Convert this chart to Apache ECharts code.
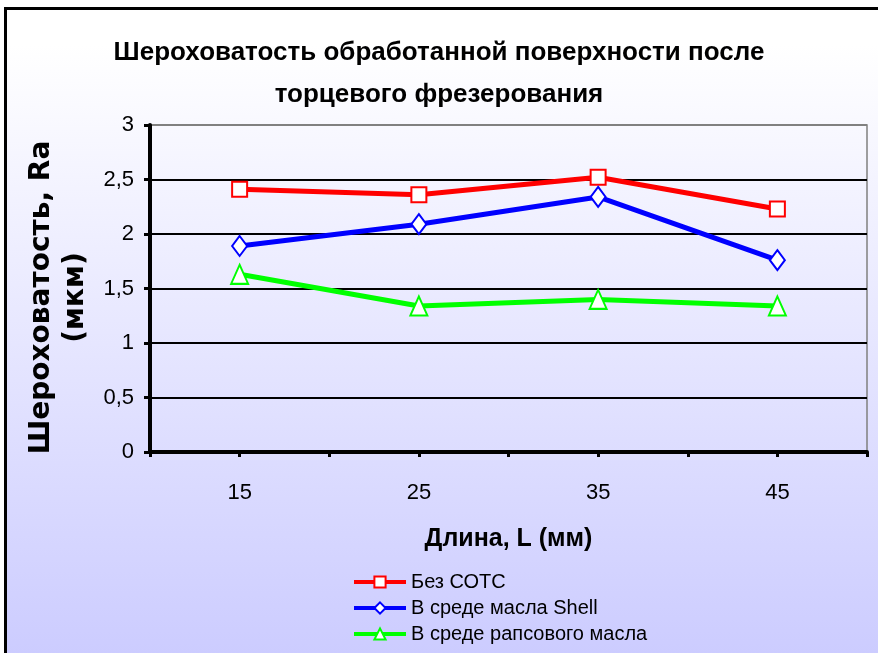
<!DOCTYPE html>
<html>
<head>
<meta charset="utf-8">
<script src="https://cdn.jsdelivr.net/npm/echarts@6/dist/echarts.min.js"></script>
<style>
  html, body { margin: 0; padding: 0; background: #ffffff; }
  #frame {
    position: absolute; left: 4px; top: 7px; width: 900px; height: 700px;
    border-left: 3px solid #000; border-top: 3px solid #000;
    background: linear-gradient(to bottom, #ffffff 0%, #ffffff 5%, #ccccff 92%, #ccccff 100%);
  }
  #chart { position: absolute; left: 0; top: 0; width: 878px; height: 653px; }
</style>
</head>
<body>
<div id="frame"></div>
<div id="chart"></div>
<script>
// Length of the milled part, mm
const lengths = [15, 25, 35, 45];
// Roughness Ra, µm
const dryValues = [2.41, 2.36, 2.52, 2.23];
const shellValues = [1.89, 2.09, 2.34, 1.76];
const rapeseedValues = [1.63, 1.34, 1.40, 1.34];
const seriesNames = ['Без СОТС', 'В среде масла Shell', 'В среде рапсового масла'];
const yTicks = [0, 0.5, 1, 1.5, 2, 2.5, 3];

const pairs = vals => lengths.map((x, i) => [x, vals[i]]);
const font = "'Liberation Sans', Arial, sans-serif";

const chart = echarts.init(document.getElementById('chart'), null, { renderer: 'canvas' });

function lineSeries(name, vals, color, symbol, size) {
  return {
    name, type: 'line', data: pairs(vals),
    symbol, symbolSize: size,
    lineStyle: { color, width: 5 },
    itemStyle: { color: '#ffffff', borderColor: color, borderWidth: 2 },
    z: 5
  };
}

chart.setOption({
  backgroundColor: 'transparent',
  animation: false,
  title: {
    text: 'Шероховатость обработанной поверхности после\nторцевого фрезерования',
    left: 'center', top: 27,
    textStyle: { fontFamily: font, fontWeight: 'bold', fontSize: 26, lineHeight: 42, color: '#000' }
  },
  grid: {
    left: 150, right: 11, top: 125, bottom: 201,
    outerBoundsMode: 'none', containLabel: false,
    show: true, borderColor: '#808080', borderWidth: 1.5
  },
  legend: {
    orient: 'vertical', left: 352, top: 572, padding: 0,
    itemWidth: 52, itemHeight: 14, itemGap: 6,
    lineStyle: { width: 4 },
    textStyle: { fontFamily: font, fontSize: 20, lineHeight: 20, color: '#000' },
    data: seriesNames
  },
  xAxis: {
    type: 'value', min: 10, max: 50, interval: 5,
    name: 'Длина, L (мм)', nameLocation: 'middle', nameGap: 75,
    nameTextStyle: { fontFamily: font, fontWeight: 'bold', fontSize: 25, color: '#000' },
    axisLine: { lineStyle: { color: '#000', width: 4 } },
    axisTick: { show: true, length: 5, lineStyle: { color: '#000', width: 3 } },
    axisLabel: {
      margin: 30, fontFamily: font, fontSize: 22, color: '#000',
      formatter: v => lengths.includes(v) ? String(v) : ''
    },
    splitLine: { show: false }
  },
  yAxis: {
    type: 'value', min: yTicks[0], max: yTicks[yTicks.length - 1], interval: 0.5,
    name: 'Шероховатость, Ra\n(мкм)', nameLocation: 'middle', nameGap: 53, nameRotate: 90,
    nameTextStyle: {
      fontFamily: "'DejaVu Sans', Verdana, sans-serif", fontWeight: 'bold', fontSize: 28, lineHeight: 34,
      color: '#000', align: 'center', padding: [0, 18, 0, 0]
    },
    axisLine: { show: true, lineStyle: { color: '#000', width: 4 } },
    axisTick: { show: true, length: 6, lineStyle: { color: '#000', width: 3 } },
    axisLabel: {
      margin: 16, fontFamily: font, fontSize: 22, color: '#000',
      formatter: v => String(v).replace('.', ',')
    },
    splitLine: {
      show: true,
      lineStyle: { color: ['#000', '#000', '#000', '#000', '#000', '#000', '#808080'], width: 2 }
    }
  },
  series: [
    lineSeries(seriesNames[0], dryValues, '#ff0000', 'rect', 15),
    lineSeries(seriesNames[1], shellValues, '#0000ff', 'diamond', [15, 20]),
    lineSeries(seriesNames[2], rapeseedValues, '#00ff00', 'triangle', [17, 19])
  ]
});
</script>
</body>
</html>
